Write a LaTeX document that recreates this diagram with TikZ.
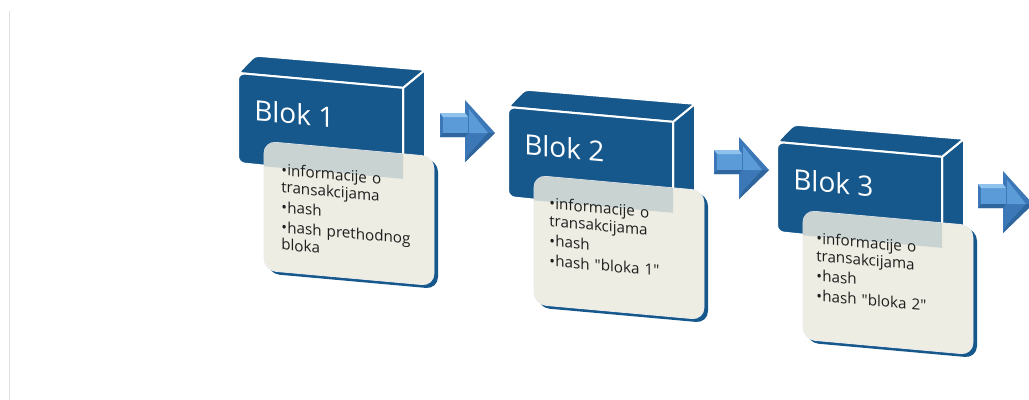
\documentclass[tikz,border=0pt]{standalone}
\usepackage{fontspec}
\setmainfont{Open Sans}[Ligatures=TeXOff]
\definecolor{blk}{HTML}{16588C}
\definecolor{beige}{HTML}{EEEDE3}
\definecolor{txt}{HTML}{1E1E1E}
\definecolor{arA}{HTML}{3C78B8}
\definecolor{arB}{HTML}{5B9BD8}
\definecolor{arC}{HTML}{8FC3EE}
\definecolor{arD}{HTML}{2F669E}
\newcommand\itm[1]{\par\hangindent=4.5pt\hangafter=1\noindent\makebox[4.5pt][l]{•}#1}
\newcommand\blockbox[6]{%
\begin{scope}[shift={(#2,#3)}, yslant=-0.09]
  \path[face] (165,0) -- (187,-20) -- (187,75) -- (165,92) -- cycle;
  \path[face] (165,0) [rounded corners=3pt] -- (0,0) -- (17,-19) [sharp corners] -- (187,-20) -- cycle;
  \path[face] (165,50) -- (165,0) [rounded corners=5pt] -- (0,0) -- (0,90) [sharp corners] -- (165,92) -- cycle;
  \fill[blk, rounded corners=9pt] (29.5,69) rectangle (200,198);
  \path[fill=beige, draw=white!85!gray, line width=0.6pt, rounded corners=9pt] (26,66) rectangle (196,195);
  \begin{scope}
    \clip[rounded corners=9pt] (26,66) rectangle (196,195);
    \fill[blk!85!gray, opacity=0.18] (0,0) rectangle (165,91);
  \end{scope}
  \node[title] (#1t) at (16,46) {#4};
  \node[items] (#1b) at (#5,78) {#6};
\end{scope}}
\newcommand\blockarrow[3]{%
\begin{scope}[shift={(#2,#3)}]
  \fill[arA] (0,13) -- (25,13) -- (25,0) -- (55,33) -- (25,62) -- (25,37) -- (0,37) -- cycle;
  \fill[arB] (3,17) -- (28,17) -- (28,33) -- (3,33) -- cycle;
  \fill[arC] (0,13) -- (25,13) -- (28,17) -- (3,17) -- cycle;
  \fill[arB] (29,9) -- (48,33) -- (29,33) -- cycle;
  \fill[arD] (25,62) -- (55,33) -- (48,33) -- (29,54) -- cycle;
  \fill[arD] (0,37) -- (25,37) -- (28,33) -- (3,33) -- cycle;
  \coordinate (#1) at (27,33);
\end{scope}}
\begin{document}
\begin{tikzpicture}[x=0.75pt,y=-0.75pt,
  face/.style={fill=blk, draw=white, line width=1.5pt, line join=round},
  title/.style={anchor=base west, inner sep=0, transform shape, text=white, font=\fontsize{21}{24}\selectfont},
  items/.style={anchor=north west, inner sep=0, text width=130pt, align=left, transform shape, text=txt,
    font=\fontsize{11.4}{13}\selectfont\setlength{\parskip}{2pt}}]
\useasboundingbox (0,0) rectangle (1029,400);
\fill[white] (0,0) rectangle (1029,400);
\draw[black!12, line width=0.8pt] (9.5,11) -- (9.5,400);
\blockbox{k1}{238}{73}{Blok 1}{43}{\itm{informacije o\\transakcijama}\itm{hash}\itm{hash prethodnog\\bloka}}
\blockbox{k2}{508}{107}{Blok 2}{41}{\itm{informacije o\\transakcijama}\itm{hash}\itm{hash "bloka 1"}}
\blockbox{k3}{777}{142}{Blok 3}{39}{\itm{informacije o\\transakcijama}\itm{hash}\itm{hash "bloka 2"}}
\blockarrow{a1}{440}{100}
\blockarrow{a2}{714}{137}
\blockarrow{a3}{978}{171}
\end{tikzpicture}
\end{document}
